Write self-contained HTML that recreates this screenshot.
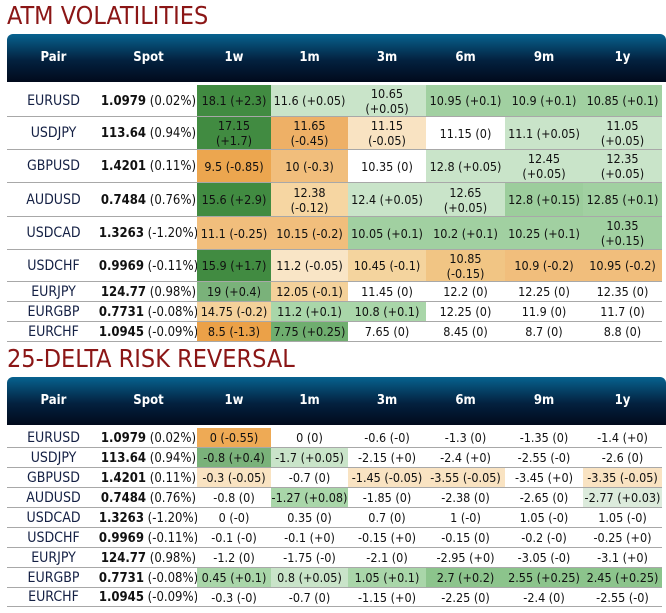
<!DOCTYPE html>
<html><head><meta charset="utf-8"><style>
body{margin:0;width:666px;height:613px;background:#fff;position:relative;overflow:hidden;font-family:"DejaVu Sans Condensed","Liberation Sans",sans-serif;}
.title{position:absolute;left:7px;color:#8b1616;font-size:25px;letter-spacing:0px;font-family:"DejaVu Sans Condensed","Liberation Sans",sans-serif;}
.hdr{position:absolute;left:7px;width:659px;border-radius:6px 6px 0 0;background:linear-gradient(#07628f,#03213f 55%,#010a1c);}
.h{position:absolute;color:#fff;font-weight:bold;font-size:13px;text-align:center;}
.c{position:absolute;display:flex;align-items:center;justify-content:center;text-align:center;font-size:12.5px;color:#111;white-space:pre-line;line-height:15px;box-sizing:border-box;}
.line{position:absolute;left:7px;width:655px;height:1px;background:#a8a8a8;}
</style></head><body>
<div class="title" style="top:1px">ATM VOLATILITIES</div>
<div class="title" style="top:344px">25-DELTA RISK REVERSAL</div>
<script>
const cols=[7,100,197,271,348,426,505,583,662];
const headers=["Pair","Spot","1w","1m","3m","6m","9m","1y"];
const pairs=["EURUSD","USDJPY","GBPUSD","AUDUSD","USDCAD","USDCHF","EURJPY","EURGBP","EURCHF"];
const spots=["1.0979 (0.02%)","113.64 (0.94%)","1.4201 (0.11%)","0.7484 (0.76%)","1.3263 (-1.20%)","0.9969 (-0.11%)","124.77 (0.98%)","0.7731 (-0.08%)","1.0945 (-0.09%)"];
const atmValues=[
["18.1 (+2.3)","11.6 (+0.05)","10.65\n(+0.05)","10.95 (+0.1)","10.9 (+0.1)","10.85 (+0.1)"],
["17.15\n(+1.7)","11.65\n(-0.45)","11.15\n(-0.05)","11.15 (0)","11.1 (+0.05)","11.05\n(+0.05)"],
["9.5 (-0.85)","10 (-0.3)","10.35 (0)","12.8 (+0.05)","12.45\n(+0.05)","12.35\n(+0.05)"],
["15.6 (+2.9)","12.38\n(-0.12)","12.4 (+0.05)","12.65\n(+0.05)","12.8 (+0.15)","12.85 (+0.1)"],
["11.1 (-0.25)","10.15 (-0.2)","10.05 (+0.1)","10.2 (+0.1)","10.25 (+0.1)","10.35\n(+0.15)"],
["15.9 (+1.7)","11.2 (-0.05)","10.45 (-0.1)","10.85\n(-0.15)","10.9 (-0.2)","10.95 (-0.2)"],
["19 (+0.4)","12.05 (-0.1)","11.45 (0)","12.2 (0)","12.25 (0)","12.35 (0)"],
["14.75 (-0.2)","11.2 (+0.1)","10.8 (+0.1)","12.25 (0)","11.9 (0)","11.7 (0)"],
["8.5 (-1.3)","7.75 (+0.25)","7.65 (0)","8.45 (0)","8.7 (0)","8.8 (0)"]];
const atmColors=[
["#418b41","#c9e4c9","#c9e4c9","#a1d0a1","#a1d0a1","#a1d0a1"],
["#418b41","#eeb066","#f9e3c2","#fff","#c9e4c9","#c9e4c9"],
["#eca64f","#f1be7c","#fff","#c9e4c9","#c9e4c9","#c9e4c9"],
["#418b41","#f6d6a2","#c9e4c9","#c9e4c9","#9ccd9c","#a1d0a1"],
["#f1be7c","#f1be7c","#a1d0a1","#a1d0a1","#a1d0a1","#a1d0a1"],
["#418b41","#f9e5c6","#f4d49e","#f1c584","#f1be7c","#f1be7c"],
["#7ab27a","#f4d19a","#fff","#fff","#fff","#fff"],
["#f4d19a","#a9d6a9","#a9d6a9","#fff","#fff","#fff"],
["#eba148","#6fae6f","#fff","#fff","#fff","#fff"]];
const rrValues=[
["0 (-0.55)","0 (0)","-0.6 (-0)","-1.3 (0)","-1.35 (0)","-1.4 (+0)"],
["-0.8 (+0.4)","-1.7 (+0.05)","-2.15 (+0)","-2.4 (+0)","-2.55 (-0)","-2.6 (0)"],
["-0.3 (-0.05)","-0.7 (0)","-1.45 (-0.05)","-3.55 (-0.05)","-3.45 (+0)","-3.35 (-0.05)"],
["-0.8 (0)","-1.27 (+0.08)","-1.85 (0)","-2.38 (0)","-2.65 (0)","-2.77 (+0.03)"],
["0 (-0)","0.35 (0)","0.7 (0)","1 (-0)","1.05 (-0)","1.05 (-0)"],
["-0.1 (-0)","-0.1 (+0)","-0.15 (+0)","-0.15 (0)","-0.2 (-0)","-0.25 (+0)"],
["-1.2 (0)","-1.75 (-0)","-2.1 (0)","-2.95 (+0)","-3.05 (-0)","-3.1 (+0)"],
["0.45 (+0.1)","0.8 (+0.05)","1.05 (+0.1)","2.7 (+0.2)","2.55 (+0.25)","2.45 (+0.25)"],
["-0.3 (-0)","-0.7 (0)","-1.15 (+0)","-2.25 (0)","-2.4 (0)","-2.55 (-0)"]];
const rrColors=[
["#eeaa55","#fff","#fff","#fff","#fff","#fff"],
["#7ab27a","#c9e4c9","#fff","#fff","#fff","#fff"],
["#f9e3c2","#fff","#f9e3c2","#f9e3c2","#fff","#f9e3c2"],
["#fff","#a9d6a9","#fff","#fff","#fff","#dcebdc"],
["#fff","#fff","#fff","#fff","#fff","#fff"],
["#fff","#fff","#fff","#fff","#fff","#fff"],
["#fff","#fff","#fff","#fff","#fff","#fff"],
["#a9d6a9","#c9e4c9","#a9d6a9","#8cc48c","#8cc48c","#8cc48c"],
["#fff","#fff","#fff","#fff","#fff","#fff"]];
const atmRows=[85,117,150,183,217,250,282,302,322,342];
const rrRows=[428,448,468,488,508,528,548,568,588,607];

function mk(cls,style,text){const d=document.createElement('div');d.className=cls;Object.assign(d.style,style);if(text!==undefined)d.textContent=text;document.body.appendChild(d);return d;}
function table(prefix,hTop,hBot,rows,vals,colors){
  const hd=mk('hdr',{top:hTop+'px',height:(hBot-hTop)+'px'});
  
  
  headers.forEach((h,i)=>{
    const e=mk('h',{left:cols[i]+'px',width:(cols[i+1]-cols[i])+'px',top:(hTop+(hBot-hTop)/2-8)+'px'},h);
    
    
  });
  pairs.forEach((p,r)=>{
    const t=rows[r],hgt=rows[r+1]-rows[r];
    const a=mk('c',{left:cols[0]+'px',width:(cols[1]-cols[0])+'px',top:t+'px',height:hgt+'px',color:'#142044',fontSize:'14px'},p);
    
    
    const b=mk('c',{left:cols[1]+'px',width:(cols[2]-cols[1])+'px',top:t+'px',height:hgt+'px',fontSize:'13px'});
    const sp=spots[r].split(' ');
    b.innerHTML='<b>'+sp[0]+'</b>&nbsp;'+sp[1];
    
    
    vals[r].forEach((v,j)=>{
      const c=mk('c',{left:cols[j+2]+'px',width:(cols[j+3]-cols[j+2])+'px',top:t+'px',height:(hgt-1)+'px',background:colors[r][j]},v);
      
      
    });
    const l=mk('line',{top:(rows[r+1]-1)+'px'});
    
    
  });
}
table('atm',34,82,atmRows,atmValues,atmColors);
table('rr',377,425,rrRows,rrValues,rrColors);
</script>
</body></html>
